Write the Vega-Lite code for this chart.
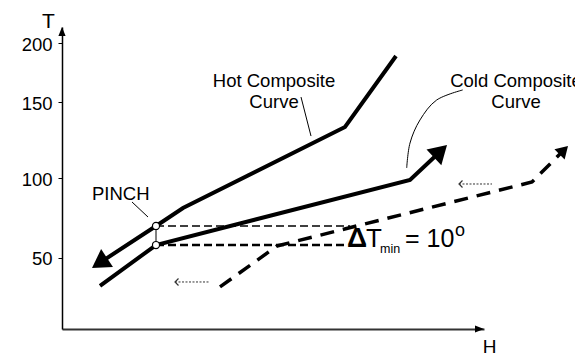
{
  "$schema": "https://vega.github.io/schema/vega-lite/v6.json",
  "width": 422,
  "height": 302,
  "autosize": {"type": "none"},
  "padding": {"left": 62, "top": 27, "right": 91, "bottom": 26},
  "background": "white",
  "config": {"view": {"stroke": null}, "font": "Liberation Sans, Arial, sans-serif"},
  "datasets": {
    "hot": [{"H": 40, "T": 47.9}, {"H": 94, "T": 70}, {"H": 121, "T": 81.25}, {"H": 283, "T": 133.6}, {"H": 334, "T": 189}],
    "cold": [{"H": 38, "T": 32.5}, {"H": 94, "T": 58.1}, {"H": 348, "T": 98.75}, {"H": 374, "T": 114.8}],
    "shifted": [{"H": 158, "T": 31.9}, {"H": 215, "T": 57.5}, {"H": 470, "T": 97.5}, {"H": 500.3, "T": 117.3}],
    "hotTip": [{"H": 30, "T": 43.75}],
    "coldTip": [{"H": 385, "T": 121.7}],
    "shiftedTip": [{"H": 506, "T": 121.1}],
    "yTip": [{"H": 0, "T": 213.6}],
    "xTip": [{"H": 422, "T": 5.6}],
    "pinchHi": [{"H": 94, "H2": 288, "T": 70}],
    "pinchLo": [{"H": 94, "H2": 285, "T": 58.1}],
    "connector": [{"H": 94, "T": 58.1, "T2": 70}],
    "pinchPts": [{"H": 94, "T": 70}, {"H": 94, "T": 58.1}],
    "dotted": [{"H": 113, "H2": 147, "T": 35}, {"H": 397, "H2": 430, "T": 96.25}],
    "leaders": [{"H": 70, "T": 85, "H2": 86, "T2": 75.6}, {"H": 239, "T": 154.2, "H2": 249, "T2": 127.6}],
    "arc": [{"H": 400.7, "T": 160.2}, {"H": 374.7, "T": 151.7}, {"H": 358, "T": 138.2}, {"H": 348, "T": 123}, {"H": 344.7, "T": 106.6}],
    "pinchLabel": [{"label": "PINCH", "H": 30, "T": 86.25}],
    "curveLabels": [{"label": "Hot Composite", "H": 212, "T": 162.7}, {"label": "Curve", "H": 212, "T": 146}, {"label": "Cold Composite", "H": 454, "T": 162.7}, {"label": "Curve", "H": 454, "T": 146}],
    "delta": [{"label": "Δ", "H": 285, "T": 56.9}],
    "tLetter": [{"label": "T", "H": 304, "T": 56.9}],
    "sub": [{"label": "min", "H": 318, "T": 53.1}],
    "eq": [{"label": "= 10", "H": 343, "T": 56.9}],
    "sup": [{"label": "o", "H": 393, "T": 63.75}]
  },
  "encoding": {
    "x": {"field": "H", "type": "quantitative",
      "scale": {"domain": [0, 422], "nice": false, "zero": false},
      "axis": {"ticks": false, "labels": false, "grid": false, "domainColor": "#333", "domainWidth": 2, "title": "H", "titleX": 427, "titleY": 23, "titleAlign": "center", "titleBaseline": "alphabetic", "titleFontSize": 19, "titleFontWeight": "normal", "titleColor": "black"}},
    "y": {"field": "T", "type": "quantitative",
      "scale": {"domain": [5.6, 100, 150, 200, 213.6], "range": [302, 151, 75, 16, 0], "nice": false, "zero": false},
      "axis": {"values": [50, 100, 150, 200], "grid": false, "ticks": true, "tickSize": 4, "tickColor": "black", "tickWidth": 1, "domainColor": "black", "domainWidth": 1.5, "labelFontSize": 18.5, "labelColor": "black", "labelPadding": 6, "labelOverlap": false, "labelOffset": 1, "title": "T", "titleAngle": 0, "titleX": -14, "titleY": 0, "titleAlign": "center", "titleBaseline": "alphabetic", "titleFontSize": 21, "titleFontWeight": "normal", "titleColor": "black"}}
  },
  "layer": [
    {"data": {"name": "hot"}, "mark": {"type": "line", "color": "black", "strokeWidth": 4, "strokeJoin": "miter", "strokeCap": "butt"}, "encoding": {}},
    {"data": {"name": "cold"}, "mark": {"type": "line", "color": "black", "strokeWidth": 4, "strokeJoin": "miter", "strokeCap": "butt"}, "encoding": {}},
    {"data": {"name": "shifted"}, "mark": {"type": "line", "color": "black", "strokeWidth": 3.5, "strokeDash": [14, 9], "strokeJoin": "miter", "strokeCap": "butt"}, "encoding": {}},
    {"data": {"name": "pinchHi"}, "mark": {"type": "rule", "color": "black", "strokeWidth": 1.3, "strokeDash": [8, 4]}, "encoding": {"x2": {"field": "H2"}}},
    {"data": {"name": "pinchLo"}, "mark": {"type": "rule", "color": "black", "strokeWidth": 2.5, "strokeDash": [8, 4]}, "encoding": {"x2": {"field": "H2"}}},
    {"data": {"name": "connector"}, "mark": {"type": "rule", "color": "black", "strokeWidth": 1}, "encoding": {"y2": {"field": "T2"}}},
    {"data": {"name": "pinchPts"}, "mark": {"type": "point", "shape": "circle", "size": 50, "filled": true, "fill": "white", "stroke": "black", "strokeWidth": 1.2, "opacity": 1}},
    {"data": {"name": "hotTip"}, "mark": {"type": "point", "shape": "M0,0 L-2,-1.2 L-2,1.2 Z", "size": 324, "filled": true, "color": "black", "opacity": 1, "angle": 146.7}},
    {"data": {"name": "coldTip"}, "mark": {"type": "point", "shape": "M0,0 L-2,-1.2 L-2,1.2 Z", "size": 324, "filled": true, "color": "black", "opacity": 1, "angle": 316.6}},
    {"data": {"name": "shiftedTip"}, "mark": {"type": "point", "shape": "M0,0 L-2,-1.2 L-2,1.2 Z", "size": 144, "filled": true, "color": "black", "opacity": 1, "angle": 315}},
    {"data": {"name": "yTip"}, "mark": {"type": "point", "shape": "M0,0 L-2,-0.8 L-2,0.8 Z", "size": 81, "filled": true, "color": "black", "opacity": 1, "angle": 270}},
    {"data": {"name": "xTip"}, "mark": {"type": "point", "shape": "M0,0 L-2,-0.8 L-2,0.8 Z", "size": 81, "filled": true, "color": "black", "opacity": 1, "angle": 0}},
    {"data": {"name": "dotted"}, "mark": {"type": "rule", "color": "#333", "strokeWidth": 1, "strokeDash": [2, 1.5]}, "encoding": {"x2": {"field": "H2"}}},
    {"data": {"name": "dotted"}, "mark": {"type": "point", "shape": "M1,-1 L0,0 L1,1", "size": 49, "filled": false, "stroke": "#333", "strokeWidth": 1.2, "opacity": 1}},
    {"data": {"name": "leaders"}, "mark": {"type": "rule", "color": "black", "strokeWidth": 1}, "encoding": {"x2": {"field": "H2"}, "y2": {"field": "T2"}}},
    {"data": {"name": "arc"}, "mark": {"type": "line", "color": "black", "strokeWidth": 1, "interpolate": "cardinal"}, "encoding": {}},
    {"data": {"name": "pinchLabel"}, "mark": {"type": "text", "align": "left", "baseline": "alphabetic", "fontSize": 18.5, "color": "black"}, "encoding": {"text": {"field": "label"}}},
    {"data": {"name": "curveLabels"}, "mark": {"type": "text", "align": "center", "baseline": "alphabetic", "fontSize": 18.5, "color": "black"}, "encoding": {"text": {"field": "label"}}},
    {"data": {"name": "delta"}, "mark": {"type": "text", "align": "left", "baseline": "alphabetic", "fontSize": 28, "fontWeight": "bold", "color": "black"}, "encoding": {"text": {"field": "label"}}},
    {"data": {"name": "tLetter"}, "mark": {"type": "text", "align": "left", "baseline": "alphabetic", "fontSize": 26, "color": "black"}, "encoding": {"text": {"field": "label"}}},
    {"data": {"name": "sub"}, "mark": {"type": "text", "align": "left", "baseline": "alphabetic", "fontSize": 12.5, "color": "black"}, "encoding": {"text": {"field": "label"}}},
    {"data": {"name": "eq"}, "mark": {"type": "text", "align": "left", "baseline": "alphabetic", "fontSize": 25, "color": "black"}, "encoding": {"text": {"field": "label"}}},
    {"data": {"name": "sup"}, "mark": {"type": "text", "align": "left", "baseline": "alphabetic", "fontSize": 18, "color": "black"}, "encoding": {"text": {"field": "label"}}}
  ]
}
